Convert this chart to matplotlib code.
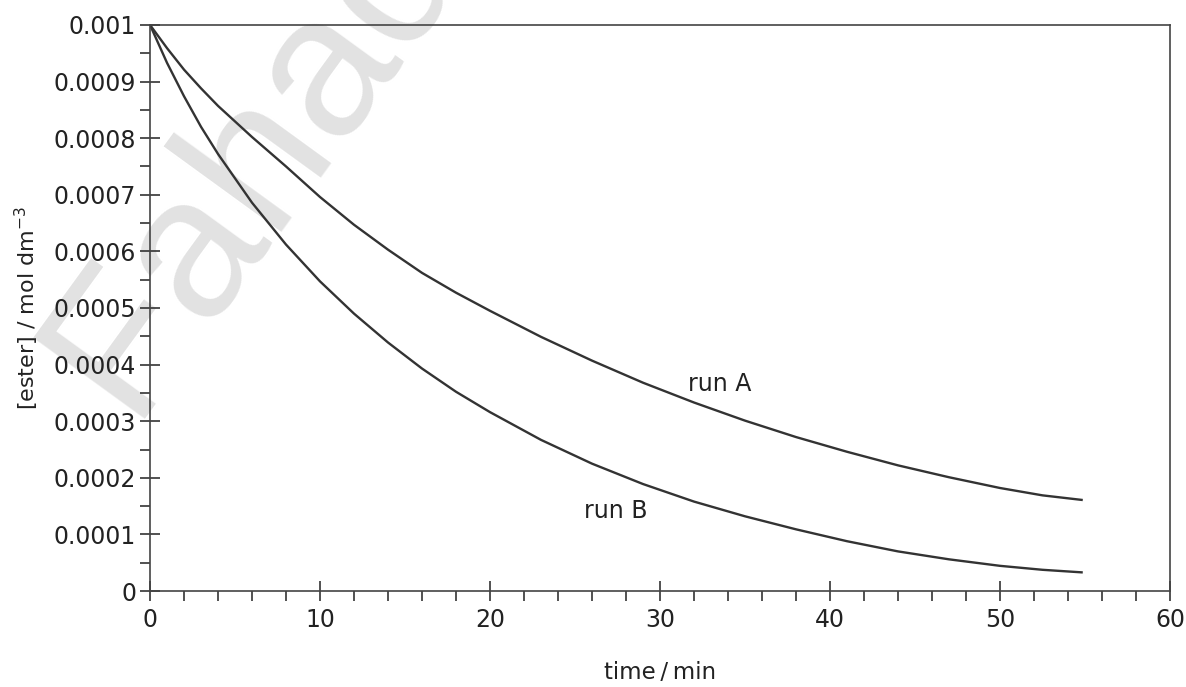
import matplotlib.pyplot as plt
import numpy as np

plt.rcParams['font.family'] = ['DejaVu Sans']

# values, concentration in mol dm-3
time_min = [0, 1, 2, 3, 4, 6, 8, 10, 12, 14, 16, 18, 20, 23, 26, 29,
            32, 35, 38, 41, 44, 47, 50, 52.5, 54.8]
run_a = [1.000, 0.959, 0.921, 0.888, 0.857, 0.802, 0.750, 0.696, 0.647,
         0.603, 0.562, 0.527, 0.495, 0.449, 0.407, 0.368, 0.333, 0.301,
         0.272, 0.246, 0.222, 0.201, 0.182, 0.169, 0.161]
run_b = [1.000, 0.933, 0.874, 0.820, 0.772, 0.686, 0.612, 0.547, 0.490,
         0.439, 0.393, 0.352, 0.316, 0.267, 0.225, 0.189, 0.158, 0.132,
         0.109, 0.088, 0.070, 0.056, 0.0445, 0.0375, 0.033]
run_a = [v * 1e-3 for v in run_a]
run_b = [v * 1e-3 for v in run_b]

x_ticks = [0, 10, 20, 30, 40, 50, 60]
y_ticks = [0, 0.0001, 0.0002, 0.0003, 0.0004, 0.0005,
           0.0006, 0.0007, 0.0008, 0.0009, 0.001]
y_tick_labels = ['0', '0.0001', '0.0002', '0.0003', '0.0004', '0.0005',
                 '0.0006', '0.0007', '0.0008', '0.0009', '0.001']

fig = plt.figure(figsize=(11.86, 6.87), dpi=100)
ax = fig.add_axes([0.1265, 0.1397, 0.86, 0.824])
ax.patch.set_alpha(0)

# watermark behind the axes
fig.text(0.215, 0.77, 'Fahad', rotation=54, fontsize=145, color='#e2e2e2',
         family='Liberation Sans', ha='center', va='center', zorder=-1)

line_col = '#333333'
ax.plot(time_min, run_a, color=line_col, lw=1.7)
ax.plot(time_min, run_b, color=line_col, lw=1.7)

ax.text(33.5, 0.000365, 'run A', fontsize=17, ha='center', va='center', color='#222222')
ax.text(27.4, 0.000141, 'run B', fontsize=17, ha='center', va='center', color='#222222')

ax.set_xlim(0, 60)
ax.set_ylim(0, 0.001)
ax.set_xticks(x_ticks)
ax.set_xticks(np.arange(0, 61, 2), minor=True)
ax.set_yticks(y_ticks)
ax.set_yticklabels(y_tick_labels)
ax.set_yticks(np.arange(0.00005, 0.001, 0.0001), minor=True)

for s in ax.spines.values():
    s.set_color('#444444')
    s.set_linewidth(1.2)

ax.tick_params(which='major', direction='inout', length=14, width=1.2,
               color='#333333', labelsize=17, labelcolor='#222222')
ax.tick_params(axis='x', which='major', pad=5)
ax.tick_params(axis='y', which='major', pad=3)
ax.tick_params(which='minor', direction='out', length=7, width=1.2, color='#333333')

ax.set_xlabel('time\u2009/\u2009min', fontsize=16.5, labelpad=21, color='#222222')
ax.set_ylabel('[ester] / mol dm$^{-3}$', fontsize=16, labelpad=9, color='#222222')

fig.savefig('out.png', dpi=100)
